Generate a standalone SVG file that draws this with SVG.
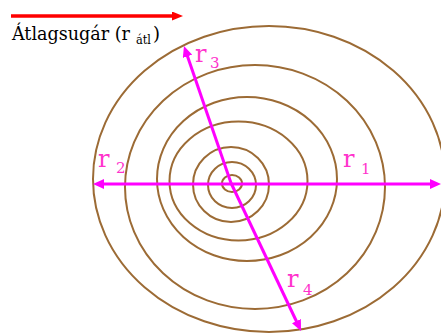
<svg xmlns="http://www.w3.org/2000/svg" width="441" height="333" viewBox="0 0 441 333">
<style>
.ring{fill:none;stroke:#9C6B35;stroke-width:2}
.mag{stroke:#FF00FF;stroke-width:3;fill:none}
.lbl{fill:#FF33CC;font-family:"DejaVu Serif",serif}
.title{fill:#000000;font-family:"DejaVu Serif",serif}
</style>
<defs>
<marker id="hm" markerUnits="userSpaceOnUse" markerWidth="11" markerHeight="10" viewBox="0 0 11 10" refX="6" refY="5" orient="auto"><path d="M0,0 L11,5 L0,10 z" fill="#FF00FF"/></marker>
<marker id="hr" markerUnits="userSpaceOnUse" markerWidth="11" markerHeight="9" viewBox="0 0 11 9" refX="6" refY="4.5" orient="auto"><path d="M0,0 L11,4.5 L0,9 z" fill="#FF0000"/></marker>
</defs>
<rect width="441" height="333" fill="#fff"/>
<g id="rings">
<ellipse class="ring" cx="269" cy="179" rx="176" ry="153"/>
<ellipse class="ring" cx="255" cy="187" rx="130" ry="122"/>
<ellipse class="ring" cx="247" cy="179" rx="90" ry="82"/>
<ellipse class="ring" cx="238.5" cy="181" rx="69" ry="59.5"/>
<ellipse class="ring" cx="231" cy="184.5" rx="38" ry="37.5"/>
<ellipse class="ring" cx="232" cy="185" rx="24" ry="23"/>
<ellipse class="ring" cx="232" cy="183.5" rx="10" ry="8.5"/>
</g>
<g id="connectors">
<line class="mag" x1="232" y1="184" x2="436" y2="184" marker-end="url(#hm)"/>
<line class="mag" x1="232" y1="184" x2="98" y2="184" marker-end="url(#hm)"/>
<line class="mag" x1="231" y1="183" x2="185.6" y2="50.7" marker-end="url(#hm)"/>
<line class="mag" x1="231" y1="183" x2="298.9" y2="326.5" marker-end="url(#hm)"/>
<line x1="11" y1="16" x2="178" y2="16" stroke="#FF0000" stroke-width="3.5" marker-end="url(#hr)"/>
</g>
<g id="labels">
<text class="lbl" x="343" y="167" font-size="24">r</text><text class="lbl" x="361" y="174" font-size="15">1</text>
<text class="lbl" x="98" y="167" font-size="24">r</text><text class="lbl" x="116" y="173" font-size="15">2</text>
<text class="lbl" x="195" y="62" font-size="24">r</text><text class="lbl" x="210" y="68" font-size="15">3</text>
<text class="lbl" x="287" y="287" font-size="24">r</text><text class="lbl" x="303" y="295" font-size="15">4</text>
</g>
<g id="title">
<text class="title" x="12" y="40" font-size="18" textLength="118" lengthAdjust="spacingAndGlyphs">Átlagsugár (r</text>
<text class="title" x="136" y="44" font-size="13" textLength="15" lengthAdjust="spacingAndGlyphs">átl</text>
<text class="title" x="153" y="40" font-size="18">)</text>
</g>
</svg>
